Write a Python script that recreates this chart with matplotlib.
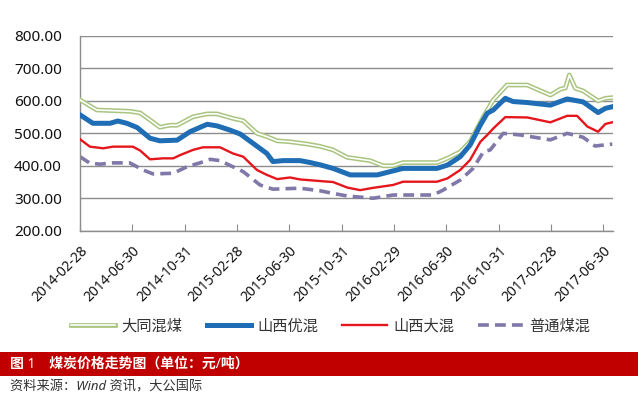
import matplotlib
matplotlib.use("Agg")
import matplotlib.pyplot as plt
import matplotlib.dates as mdates
from matplotlib.patches import Rectangle
from matplotlib.ticker import FormatStrFormatter, MultipleLocator
import pandas as pd

plt.rcParams['font.family'] = ['Noto Sans', 'Noto Sans CJK SC', 'DejaVu Sans']

# 煤炭价格 (元/吨)
datong_dates = ['2014-02-28', '2014-04-08', '2014-06-24', '2014-07-18', '2014-09-02',
                '2014-09-25', '2014-10-12', '2014-11-18', '2014-12-21', '2015-01-13',
                '2015-02-19', '2015-03-15', '2015-04-16', '2015-05-09', '2015-06-02',
                '2015-07-02', '2015-08-11', '2015-09-10', '2015-10-10', '2015-11-12',
                '2016-01-04', '2016-02-04', '2016-02-27', '2016-03-21', '2016-06-08',
                '2016-07-02', '2016-08-01', '2016-08-24', '2016-09-24', '2016-10-17',
                '2016-11-18', '2017-01-04', '2017-02-27', '2017-03-22', '2017-04-03',
                '2017-04-12', '2017-04-26', '2017-05-14', '2017-06-18', '2017-07-05',
                '2017-07-21']
datong = [603, 572, 568, 563, 519, 525, 525, 551, 560, 560,
          546, 539, 500, 490, 477, 474, 467, 460, 449, 426,
          416, 400, 400, 410, 410, 423, 443, 474, 551, 603,
          649, 649, 618, 636, 640, 680, 639, 631, 600, 608,
          610]

youhun_dates = ['2014-02-28', '2014-03-30', '2014-05-09', '2014-05-27', '2014-06-17',
                '2014-07-11', '2014-08-10', '2014-09-02', '2014-10-12', '2014-11-11',
                '2014-12-21', '2015-01-13', '2015-02-12', '2015-03-08', '2015-04-07',
                '2015-05-09', '2015-05-23', '2015-06-16', '2015-07-25', '2015-08-18',
                '2015-09-10', '2015-10-10', '2015-11-19', '2016-01-21', '2016-02-20',
                '2016-03-21', '2016-06-08', '2016-07-02', '2016-08-01', '2016-08-24',
                '2016-09-17', '2016-10-03', '2016-10-17', '2016-11-14', '2016-12-02',
                '2017-01-04', '2017-02-27', '2017-04-07', '2017-05-14', '2017-06-18',
                '2017-07-05', '2017-07-21']
youhun = [557, 531, 531, 538, 531, 518, 485, 477, 479, 505,
          528, 523, 510, 498, 469, 438, 413, 416, 416, 410,
          403, 392, 372, 372, 382, 392, 392, 402, 428, 464,
          526, 562, 572, 608, 598, 595, 587, 606, 597, 564,
          577, 582]

dahun_dates = ['2014-02-28', '2014-03-23', '2014-04-23', '2014-05-16', '2014-07-01',
               '2014-07-18', '2014-08-10', '2014-09-09', '2014-10-03', '2014-10-19',
               '2014-11-18', '2014-12-11', '2015-01-20', '2015-02-19', '2015-03-15',
               '2015-04-16', '2015-05-09', '2015-06-02', '2015-07-02', '2015-07-25',
               '2015-09-10', '2015-10-10', '2015-11-12', '2015-12-12', '2016-01-11',
               '2016-02-27', '2016-03-21', '2016-06-08', '2016-07-02', '2016-08-01',
               '2016-08-24', '2016-09-17', '2016-10-03', '2016-10-17', '2016-11-14',
               '2017-01-04', '2017-02-27', '2017-04-07', '2017-04-30', '2017-05-24',
               '2017-06-18', '2017-07-05', '2017-07-21']
dahun = [482, 459, 454, 459, 459, 447, 420, 423, 423, 433,
         449, 457, 457, 438, 428, 387, 372, 359, 364, 358,
         353, 350, 333, 325, 332, 341, 351, 351, 361, 387,
         418, 474, 495, 515, 550, 549, 534, 554, 554, 521,
         505, 529, 534]

putong_dates = ['2014-02-28', '2014-03-23', '2014-04-16', '2014-05-16', '2014-06-24',
                '2014-07-25', '2014-08-17', '2014-10-03', '2014-11-04', '2014-12-04',
                '2014-12-28', '2015-01-20', '2015-02-19', '2015-03-15', '2015-04-23',
                '2015-05-23', '2015-07-25', '2015-09-10', '2015-10-10', '2015-11-12',
                '2016-01-11', '2016-02-27', '2016-05-30', '2016-06-22', '2016-08-01',
                '2016-08-31', '2016-09-24', '2016-10-10', '2016-11-09', '2016-12-19',
                '2017-02-27', '2017-04-07', '2017-05-14', '2017-06-11', '2017-07-21']
putong = [428, 408, 405, 409, 409, 387, 375, 377, 397, 409,
          420, 416, 397, 382, 341, 328, 331, 323, 315, 307,
          300, 310, 310, 325, 356, 392, 443, 449, 500, 495,
          480, 500, 488, 461, 467]

tick_dates = ['2014-02-28', '2014-06-30', '2014-10-31', '2015-02-28', '2015-06-30',
              '2015-10-31', '2016-02-29', '2016-06-30', '2016-10-31', '2017-02-28',
              '2017-06-30']

names = ['大同混煤', '山西优混', '山西大混', '普通煤混']

fig = plt.figure(figsize=(6.4, 3.96), dpi=100)
ax = fig.add_axes([0.125, 0.4174, 0.833, 0.4917])

grey = '#8c8c8c'
g1, = ax.plot(pd.to_datetime(datong_dates), datong, color='#a9c47f', lw=3.4,
              solid_joinstyle='round', zorder=3)
g2, = ax.plot(pd.to_datetime(datong_dates), datong, color='white', lw=1.2,
              solid_joinstyle='round', zorder=3)
b, = ax.plot(pd.to_datetime(youhun_dates), youhun, color='#1f6db4', lw=3.6,
             solid_joinstyle='round', zorder=4)
r, = ax.plot(pd.to_datetime(dahun_dates), dahun, color='#e5161c', lw=1.7,
             solid_joinstyle='round', zorder=5)
p, = ax.plot(pd.to_datetime(putong_dates), putong, color='#7f78a8', lw=2.6,
             dashes=(3, 1.7), zorder=2)

ax.set_ylim(200, 800)
ax.yaxis.set_major_locator(MultipleLocator(100))
ax.yaxis.set_major_formatter(FormatStrFormatter('%.2f'))
ax.grid(axis='y', color=grey, lw=1)
ax.set_axisbelow(True)
ax.set_xlim(pd.Timestamp('2014-02-28'), pd.Timestamp('2017-07-23'))
ax.set_xticks(pd.to_datetime(tick_dates))
ax.set_xticklabels(tick_dates, rotation=45, ha='right', va='top',
                   rotation_mode='anchor')
ax.tick_params(axis='x', direction='in', length=5, color=grey, pad=9,
               labelsize=10, labelcolor='#111111')
ax.tick_params(axis='y', length=0, pad=13, labelsize=11, labelcolor='#111111')
for s in ['top', 'right']:
    ax.spines[s].set_visible(False)
for s in ['left', 'bottom']:
    ax.spines[s].set_color(grey)
    ax.spines[s].set_linewidth(1)

fig.legend([(g1, g2), b, r, p], names, loc='center', bbox_to_anchor=(0.516, 0.174),
           ncol=4, frameon=False, fontsize=11, handlelength=2.9, columnspacing=1.6,
           handletextpad=0.4, labelcolor='#333333')

fig.patches.append(Rectangle((0.0, 0.0505), 0.997, 0.0606, transform=fig.transFigure,
                             facecolor='#c00000', edgecolor='none'))
fig.text(0.016, 0.0808, '图 1　煤炭价格走势图（单位：元/吨）', color='white',
         fontsize=10, fontweight='bold', va='center', ha='left')
fig.text(0.016, 0.023, '资料来源：Wind 资讯，大公国际', color='#333333',
         fontsize=9.5, style='italic', va='center', ha='left')

fig.savefig('out.png', dpi=100, facecolor='white')
